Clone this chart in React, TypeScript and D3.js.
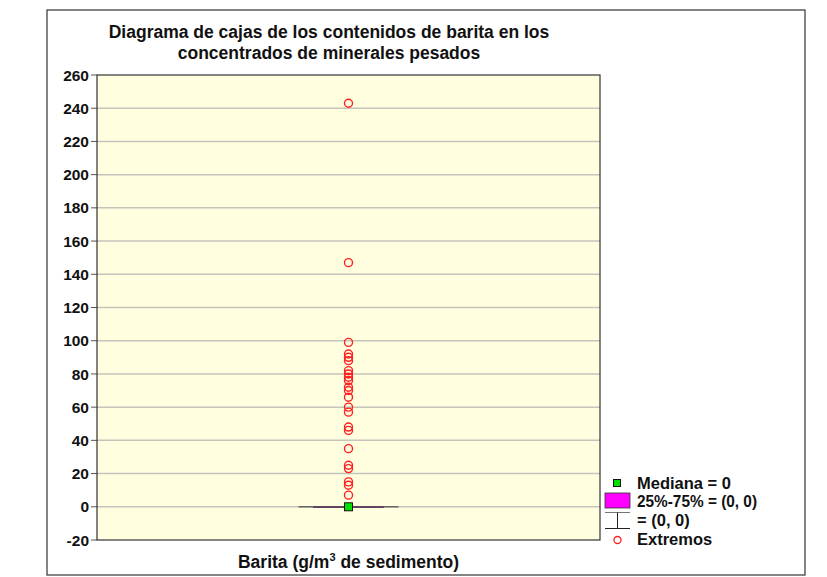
import React from "react";
import * as d3 from "d3";

const categories = ["Barita"];
const median = [0];
const q1q3 = [[0, 0]];
const whiskers = [[0, 0]];
const outliers = [243, 147, 99, 92, 90, 88, 82, 80, 78, 76, 72, 70, 66, 60, 57, 48, 46, 35, 25, 23, 15, 13, 7];
const yTicks = [-20, 0, 20, 40, 60, 80, 100, 120, 140, 160, 180, 200, 220, 240, 260];
const titleLines = [
  "Diagrama de cajas de los contenidos de barita en los",
  "concentrados de minerales pesados",
];

const W = 827;
const H = 577;
const plot = { left: 97, right: 600, top: 75, bottom: 540 };
const font = "'Liberation Sans', Arial, sans-serif";

export default function App() {
  const y = d3.scaleLinear().domain([-20, 260]).range([plot.bottom, plot.top]);
  const x = d3.scaleBand().domain(categories).range([plot.left, plot.right]);
  const boxW = 100;

  return (
    <svg
      width={W}
      height={H}
      style={{ position: "absolute", left: 0, top: 0, background: "#fff" }}
      fontFamily={font}
      fontWeight="bold"
    >
      <rect x={47} y={10} width={758} height={565} fill="#fff" stroke="#333" strokeWidth={1.2} />
      {titleLines.map((t, i) => (
        <text key={i} x={329} y={38 + i * 21} textAnchor="middle" fontSize={17.5} fill="#111">
          {t}
        </text>
      ))}
      <rect
        x={plot.left}
        y={plot.top}
        width={plot.right - plot.left}
        height={plot.bottom - plot.top}
        fill="#ffffe0"
      />
      {yTicks.map((t) => (
        <g key={t}>
          {t > -20 && t < 260 && (
            <line x1={plot.left} x2={plot.right} y1={y(t)} y2={y(t)} stroke="#c4c4bc" strokeWidth={1.5} />
          )}
          <line x1={plot.left - 6} x2={plot.left} y1={y(t)} y2={y(t)} stroke="#555" strokeWidth={1} />
          <text x={plot.left - 8} y={y(t)} dy="0.36em" textAnchor="end" fontSize={15.5} fill="#111">
            {t}
          </text>
        </g>
      ))}
      <rect
        x={plot.left}
        y={plot.top}
        width={plot.right - plot.left}
        height={plot.bottom - plot.top}
        fill="none"
        stroke="#333"
        strokeWidth={1.2}
      />
      {categories.map((c, i) => {
        const cx = (x(c) as number) + x.bandwidth() / 2;
        return (
          <g key={c}>
            <line
              x1={cx - boxW / 2}
              x2={cx + boxW / 2}
              y1={y(whiskers[i][0])}
              y2={y(whiskers[i][1])}
              stroke="#666"
              strokeWidth={1.5}
            />
            <rect
              x={cx - boxW / 2 + 15}
              y={y(q1q3[i][1])}
              width={boxW - 30}
              height={Math.max(0.8, y(q1q3[i][0]) - y(q1q3[i][1]))}
              fill="#ff00ff"
              stroke="#444"
              strokeWidth={0.8}
            />
            {outliers.map((v, j) => (
              <circle key={j} cx={cx} cy={y(v)} r={4} fill="none" stroke="#ff2020" strokeWidth={1.4} />
            ))}
            <rect
              x={cx - 4}
              y={y(median[i]) - 4}
              width={8}
              height={8}
              fill="#00e000"
              stroke="#111"
              strokeWidth={1}
            />
            <text x={cx} y={568} textAnchor="middle" fontSize={17.5} fill="#111">
              {c} (g/m
              <tspan fontSize={11} dy={-7}>3</tspan>
              <tspan dy={7}> de sedimento)</tspan>
            </text>
          </g>
        );
      })}
      {/* legend */}
      <g fontSize={16.5} fill="#111">
        <rect x={613.5} y={479.5} width={7} height={7} fill="#00e000" stroke="#111" strokeWidth={1} />
        <text x={637} y={489}>Mediana = 0</text>
        <rect x={605} y={493} width={25} height={15} fill="#ff00ff" stroke="#333" strokeWidth={0.8} />
        <text x={637} y={507} textLength={120} lengthAdjust="spacingAndGlyphs">25%-75% = (0, 0)</text>
        <line x1={605} x2={630} y1={512.5} y2={512.5} stroke="#777" strokeWidth={1} />
        <line x1={617.5} x2={617.5} y1={512.5} y2={528} stroke="#222" strokeWidth={1} />
        <line x1={605} x2={630} y1={528.5} y2={528.5} stroke="#222" strokeWidth={1} />
        <text x={637} y={526}>= (0, 0)</text>
        <circle cx={617.5} cy={540} r={3.5} fill="none" stroke="#ff2020" strokeWidth={1.3} />
        <text x={637} y={545}>Extremos</text>
      </g>
    </svg>
  );
}
